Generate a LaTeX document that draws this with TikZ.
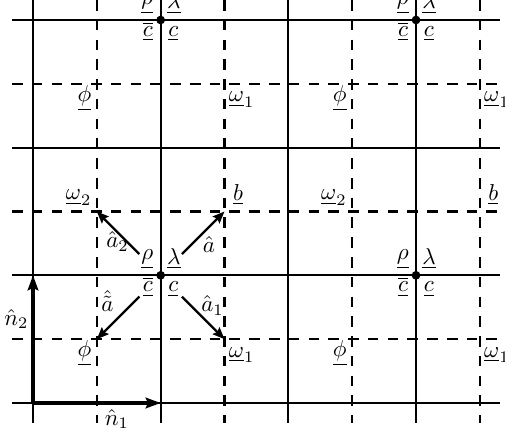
\documentclass[tikz,border=0pt]{standalone}
\usetikzlibrary{arrows.meta}
\begin{document}
\begin{tikzpicture}[x=0.435pt,y=-0.435pt,
  gridline/.style={line width=1pt},
  dgridline/.style={line width=1.1pt, dash pattern=on 4.6pt off 4pt},
  axisarrow/.style={line width=1.5pt, -{Stealth[length=6.5pt,width=4.6pt,inset=1pt]}},
  vec/.style={line width=1pt, -{Stealth[length=5.2pt,width=4.2pt,inset=0.8pt]}, shorten <=11pt},
  dotnode/.style={circle, fill, inner sep=0pt, minimum size=3.8pt},
  lab/.style={inner sep=0pt},
]
\useasboundingbox (0,0) rectangle (505,434);
% grid
\foreach \x in {33,160.67,288.33,416} \draw[gridline] (\x,0) -- (\x,423);
\foreach \x in {96.83,224.5,352.17,479.83} \draw[dgridline] (\x,0) -- (\x,423);
\foreach \y in {20,147.67,275.33,403} \draw[gridline] (12,\y) -- (500,\y);
\foreach \y in {83.83,211.5,339.17} \draw[dgridline] (12,\y) -- (500,\y);

% dots with labels
\node[dotnode] (A) at (160.67,20) {};
\node[dotnode] (B) at (416,20) {};
\node[dotnode] (C) at (160.67,275.33) {};
\node[dotnode] (D) at (416,275.33) {};
\foreach \d in {A,B,C,D} {
  \node[lab, anchor=south east] (\d-rho) at ([xshift=-3pt,yshift=2.6pt]\d.center) {$\underline{\rho}$};
  \node[lab, anchor=south west] (\d-lam) at ([xshift=2.6pt,yshift=2.6pt]\d.center) {$\underline{\lambda}$};
  \node[lab, anchor=base east] (\d-cb) at ([xshift=-3.2pt,yshift=-7.2pt]\d.center) {$\underline{\overline{c}}$};
  \node[lab, anchor=base west] (\d-c) at ([xshift=3.2pt,yshift=-7.2pt]\d.center) {$\underline{c}$};
}

% dashed intersection points
\coordinate (p1) at (96.83,83.83);
\coordinate (p2) at (224.5,83.83);
\coordinate (p3) at (352.17,83.83);
\coordinate (p4) at (479.83,83.83);
\coordinate (q1) at (96.83,211.5);
\coordinate (q2) at (224.5,211.5);
\coordinate (q3) at (352.17,211.5);
\coordinate (q4) at (479.83,211.5);
\coordinate (r1) at (96.83,339.17);
\coordinate (r2) at (224.5,339.17);
\coordinate (r3) at (352.17,339.17);
\coordinate (r4) at (479.83,339.17);

\foreach \p in {p1,p3,r1,r3}
  \node[lab, anchor=base east] (\p-phi) at ([xshift=-2.2pt,yshift=-7.6pt]\p) {$\underline{\phi}$};
\foreach \p in {p2,p4,r2,r4}
  \node[lab, anchor=base west] (\p-om) at ([xshift=1.7pt,yshift=-7.8pt]\p) {$\underline{\omega}_1$};
\foreach \p in {q1,q3}
  \node[lab, anchor=south east] (\p-om) at ([xshift=-2.2pt,yshift=2.4pt]\p) {$\underline{\omega}_2$};
\foreach \p in {q2,q4}
  \node[lab, anchor=south west] (\p-b) at ([xshift=3.5pt,yshift=2.6pt]\p) {$\underline{b}$};

% vectors
\draw[vec] (C) -- (q1);
\draw[vec] (C) -- (q2);
\draw[vec] (C) -- (r1);
\draw[vec] (C) -- (r2);
\node[lab] (la2) at (117.5,241.5) {$\hat{a}_2$};
\node[lab] (la) at (209,245) {$\hat{a}$};
\node[lab] (lat) at (107.5,301) {$\hat{\tilde{a}}$};
\node[lab] (la1) at (212.5,305.5) {$\hat{a}_1$};

% axes
\coordinate (O) at (33,403);
\coordinate (E1) at (160.67,403);
\coordinate (E2) at (33,275.33);
\draw[axisarrow] (O) -- (E1);
\draw[axisarrow] (O) -- (E2);
\node[lab] (n1) at (117,419) {$\hat{n}_1$};
\node[lab] (n2) at (16.5,319) {$\hat{n}_2$};
\end{tikzpicture}
\end{document}
